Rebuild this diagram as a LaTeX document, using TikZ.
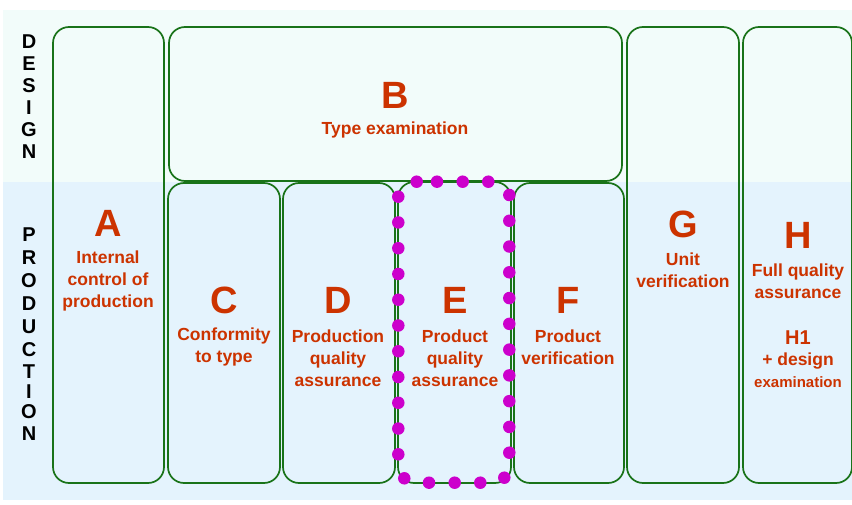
\documentclass[tikz,border=0pt]{standalone}
\usepackage{fontspec}
\setmainfont{Liberation Sans}
\definecolor{boxgreen}{RGB}{25,115,25}
\definecolor{lbl}{RGB}{204,51,0}
\definecolor{mag}{RGB}{204,0,204}
\definecolor{bgtop}{RGB}{242,252,250}
\definecolor{bgbot}{RGB}{228,243,253}
\begin{document}
\begin{tikzpicture}[x=1pt,y=-1pt,
  box/.style={draw=boxgreen,line width=1.7pt,rounded corners=16pt},
  big/.style={text=lbl,font=\fontsize{38}{38}\selectfont\bfseries,inner sep=0pt},
  sub/.style={text=lbl,font=\fontsize{17.5}{22}\selectfont\bfseries,align=center,inner sep=0pt},
  side/.style={font=\fontsize{20}{22}\selectfont\bfseries,inner sep=0pt},
  mdot/.style={circle,fill=mag,minimum size=12.5pt,inner sep=0pt}]
\useasboundingbox (0,0) rectangle (852,505);
% background bands
\fill[bgtop] (3,10) rectangle (852,182);
\fill[bgbot] (3,182) rectangle (852,500);
% boxes
\draw[box] (53,27) rectangle (164,483);
\draw[box] (169,27) rectangle (622,181);
\draw[box] (168,183) rectangle (280,483);
\draw[box] (283,183) rectangle (395,483);
\draw[box] (398,182) rectangle (511,483);
\draw[box] (514,183) rectangle (624,483);
\draw[box] (627,27) rectangle (739,483);
\draw[box] (743,27) rectangle (852,483);
% side labels
\foreach \l/\y [count=\i] in {D/42,E/64,S/86,I/108,G/130,N/152}
  \node[side] (des\i) at (29,\y) {\l};
\foreach \l/\y [count=\i] in {P/235,R/258,O/281,D/304,U/327,C/350,T/372,I/392,O/412,N/434}
  \node[side] (prod\i) at (29,\y) {\l};
% labels
\node[big] (A) at (108,223) {A};
\node[sub] (At) at (108,281) {Internal\\control of\\production};
\node[big] (B) at (395,95) {B};
\node[sub] (Bt) at (395,130) {Type examination};
\node[big] (C) at (224,300) {C};
\node[sub] (Ct) at (224,347) {Conformity\\to type};
\node[big] (D) at (338,300) {D};
\node[sub] (Dt) at (338,358) {Production\\quality\\assurance};
\node[big] (E) at (455,300) {E};
\node[sub] (Et) at (455,358) {Product\\quality\\assurance};
\node[big] (F) at (568,300) {F};
\node[sub] (Ft) at (568,347) {Product\\verification};
\node[big] (G) at (683,224) {G};
\node[sub] (Gt) at (683,270) {Unit\\verification};
\node[big] (H) at (798,235) {H};
\node[sub] (Ht) at (798,281) {Full quality\\assurance};
\node[text=lbl,font=\fontsize{20}{20}\selectfont\bfseries,inner sep=0pt] (H1) at (798,338) {H1};
\node[sub] (H1a) at (798,361) {+ design};
\node[text=lbl,font=\fontsize{15}{15}\selectfont\bfseries,inner sep=0pt] (H1b) at (798,382) {examination};
% magenta dots around E
\foreach \x [count=\i] in {416.7,437,462.7,488.3}
  \node[mdot] (dt\i) at (\x,181.7) {};
\foreach \k in {0,...,10}
  \node[mdot] (dl\k) at (398.3,196.7+25.76*\k) {};
\foreach \k in {0,...,10}
  \node[mdot] (dr\k) at (509.3,195+25.77*\k) {};
\node[mdot] (dbl) at (404.3,478.3) {};
\foreach \x [count=\i] in {429,454.7,480.3}
  \node[mdot] (db\i) at (\x,482.7) {};
\node[mdot] (dbr) at (504.3,477.7) {};
\end{tikzpicture}
\end{document}
